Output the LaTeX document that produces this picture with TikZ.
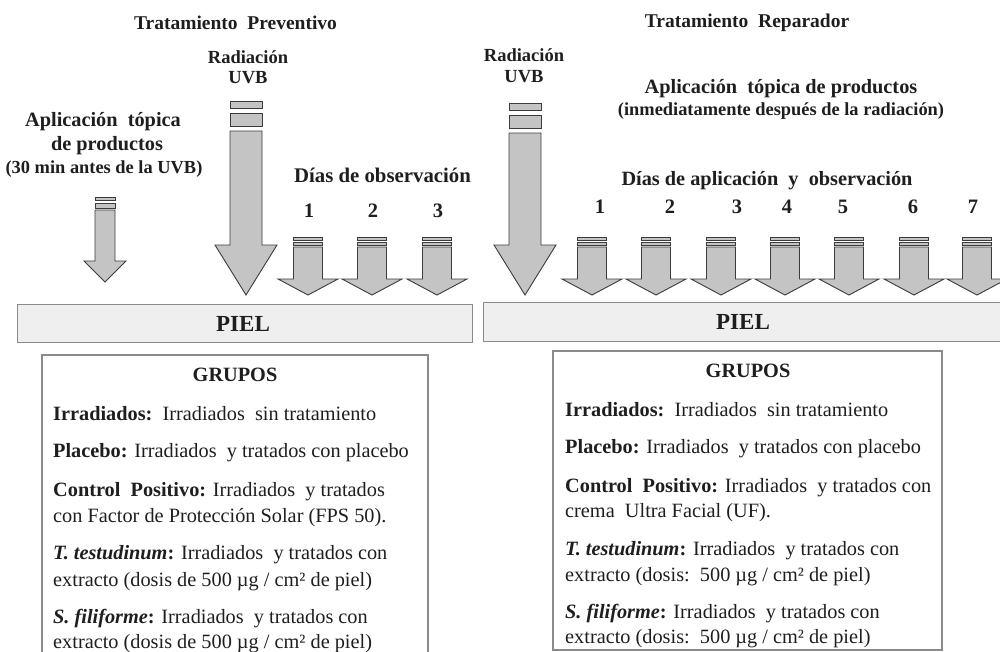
\documentclass[tikz,border=0pt]{standalone}
\usepackage{fontspec}
\setmainfont{Liberation Serif}
\definecolor{flechagris}{HTML}{C4C4C4}
\definecolor{bordegris}{HTML}{3C3C3C}
\definecolor{pielgris}{HTML}{EFEFEF}
\definecolor{marcogris}{HTML}{8A8A8A}
\definecolor{texto}{HTML}{1E1E1E}
\tikzset{
  flecha/.style={draw=bordegris, fill=flechagris, line width=0.9pt},
  titulo/.style={anchor=base, text=texto, inner sep=0pt, font=\fontsize{19.5}{21}\selectfont\bfseries},
  rotulo/.style={anchor=base, text=texto, inner sep=0pt, font=\fontsize{20.3}{22}\selectfont\bfseries},
  nota/.style={anchor=base, text=texto, inner sep=0pt, font=\fontsize{18.4}{20}\selectfont\bfseries},
  dia/.style={anchor=base, text=texto, inner sep=0pt, font=\fontsize{20.5}{22}\selectfont\bfseries},
  piel/.style={draw=marcogris, fill=pielgris, line width=1pt},
  grupobox/.style={draw=marcogris, line width=2.6pt},
  linea/.style={anchor=base west, text=texto, inner sep=0pt, font=\fontsize{20.3}{22}\selectfont},
}
% flecha de un dia
\newcommand\diaflecha[1]{%
  \draw[flecha] (#1-14.5,237) rectangle (#1+14.5,240.5);
  \draw[flecha] (#1-14.5,242) rectangle (#1+14.5,245.5);
  \draw[flecha] (#1-14.5,247) -- (#1-14.5,279) -- (#1-30,279) -- (#1,295)
    -- (#1+30,279) -- (#1+14.5,279) -- (#1+14.5,247) -- cycle;}
% flecha de la radiacion
\newcommand\uvbflecha[2]{%
  \draw[flecha] (#1-16,101+#2) rectangle (#1+16,108+#2);
  \draw[flecha] (#1-16,113+#2) rectangle (#1+16,126+#2);
  \draw[flecha] (#1-16,131+#2) -- (#1-16,245) -- (#1-31,245) -- (#1,295)
    -- (#1+31,245) -- (#1+16,245) -- (#1+16,131+#2) -- cycle;}
\begin{document}
\begin{tikzpicture}[x=1pt,y=-1pt]
  \useasboundingbox (0,0) rectangle (1000,651);
  \clip (0,0) rectangle (1000,651);

  % preventivo
  \node[titulo] (tprev) at (235.5,29) {Tratamiento\ \ Preventivo};
  \node[titulo, font=\fontsize{18.5}{20}\selectfont\bfseries] (rad1) at (248,63) {Radiación};
  \node[titulo, font=\fontsize{18.5}{20}\selectfont\bfseries] (uvb1) at (248,83) {UVB};
  \uvbflecha{246}{0}
  \node[rotulo] (apl1) at (103,126) {Aplicación\ \ tópica};
  \node[rotulo] (apl2) at (107,150) {de productos};
  \node[nota] (apl3) at (104,173) {(30 min antes de la UVB)};
  \draw[flecha] (95,197) rectangle (115,200.5);
  \draw[flecha] (95,203) rectangle (115,208);
  \draw[flecha] (95,210) -- (95,261) -- (84,261) -- (105,282) -- (126,261)
    -- (115,261) -- (115,210) -- cycle;
  \node[rotulo, font=\fontsize{20.8}{22}\selectfont\bfseries] (obs) at (382.5,182) {Días de observación};
  \foreach \x/\n in {308/1,372/2,437/3}{
    \diaflecha{\x}
    \node[dia] (d\n) at (\x+1,217) {\n};
  }
  \draw[piel] (17,304) rectangle (472,342);
  \node[rotulo, font=\fontsize{23}{25}\selectfont\bfseries] (piel1) at (243,331) {PIEL};

  \draw[grupobox] (42,355) rectangle (428,670);
  \node[anchor=base, text=texto, font=\fontsize{20.3}{22}\selectfont\bfseries] (g1) at (235,381) {GRUPOS};
  \node[linea] (a1) at (53,420) {\textbf{Irradiados:}\ \ Irradiados\ \ sin tratamiento};
  \node[linea] (a2) at (53,457) {\textbf{Placebo:} Irradiados\ \ y tratados con placebo};
  \node[linea] (a3) at (53,496) {\textbf{Control\ \ Positivo:} Irradiados\ \ y tratados};
  \node[linea] (a4) at (53,522) {con Factor de Protección Solar (FPS 50).};
  \node[linea] (a5) at (53,559) {\textbf{\textit{T. testudinum}}\textbf{:} Irradiados\ \ y tratados con};
  \node[linea] (a6) at (53,586) {extracto (dosis de 500 µg / cm² de piel)};
  \node[linea] (a7) at (53,623) {\textbf{\textit{S. filiforme}}\textbf{:} Irradiados\ \ y tratados con};
  \node[linea] (a8) at (53,648) {extracto (dosis de 500 µg / cm² de piel)};

  % reparador
  \node[titulo] (trep) at (747,27) {Tratamiento\ \ Reparador};
  \node[titulo, font=\fontsize{18.5}{20}\selectfont\bfseries] (rad2) at (524,61) {Radiación};
  \node[titulo, font=\fontsize{18.5}{20}\selectfont\bfseries] (uvb2) at (524,82) {UVB};
  \uvbflecha{525}{2}
  \node[rotulo] (apl4) at (781,93) {Aplicación\ \ tópica de productos};
  \node[nota] (apl5) at (781,115) {(inmediatamente después de la radiación)};
  \node[rotulo] (obs2) at (767,185) {Días de aplicación\ \ y\ \ observación};
  \foreach \x/\n in {592/1,656/2,721/3,785/4,849/5,914/6,977/7}{
    \diaflecha{\x}
  }
  \foreach \x/\n in {600/1,670/2,737/3,787/4,843/5,913/6,973/7}{
    \node[dia] (e\n) at (\x,213) {\n};
  }
  \draw[piel] (483,302) rectangle (1010,341);
  \node[rotulo, font=\fontsize{23}{25}\selectfont\bfseries] (piel2) at (743,329) {PIEL};

  \draw[grupobox] (553,351) rectangle (942,650);
  \node[anchor=base, text=texto, font=\fontsize{20.3}{22}\selectfont\bfseries] (g2) at (748,377) {GRUPOS};
  \node[linea] (b1) at (565,416) {\textbf{Irradiados:}\ \ Irradiados\ \ sin tratamiento};
  \node[linea] (b2) at (565,453) {\textbf{Placebo:} Irradiados\ \ y tratados con placebo};
  \node[linea] (b3) at (565,492) {\textbf{Control\ \ Positivo:} Irradiados\ \ y tratados con};
  \node[linea] (b4) at (565,517) {crema\ \ Ultra Facial (UF).};
  \node[linea] (b5) at (565,555) {\textbf{\textit{T. testudinum}}\textbf{:} Irradiados\ \ y tratados con};
  \node[linea] (b6) at (565,581) {extracto (dosis:\ \ 500 µg / cm² de piel)};
  \node[linea] (b7) at (565,618) {\textbf{\textit{S. filiforme}}\textbf{:} Irradiados\ \ y tratados con};
  \node[linea] (b8) at (565,643) {extracto (dosis:\ \ 500 µg / cm² de piel)};
\end{tikzpicture}
\end{document}
